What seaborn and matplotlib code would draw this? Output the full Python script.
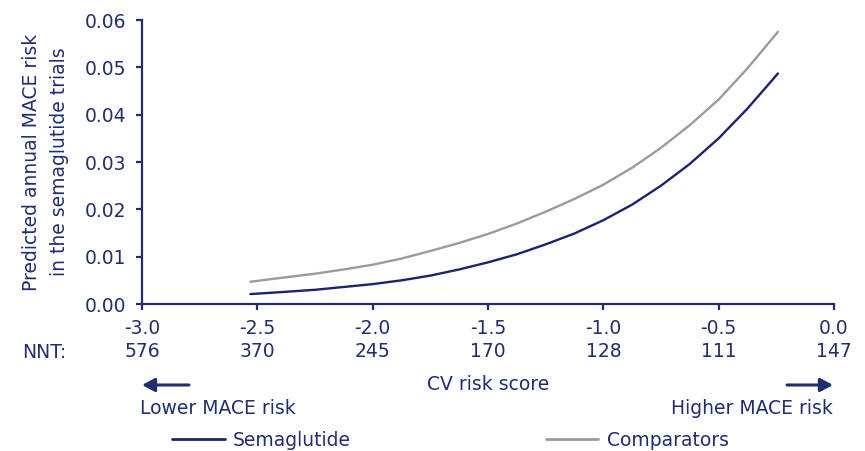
import matplotlib
matplotlib.use("Agg")
import matplotlib.pyplot as plt
import pandas as pd
import seaborn as sns
from matplotlib.lines import Line2D
from matplotlib.patches import FancyArrowPatch

# CV risk score at which the predicted annual MACE risk is read
cv_score = [-2.53, -2.40, -2.25, -2.125, -2.0, -1.875, -1.75, -1.625, -1.5, -1.375,
            -1.25, -1.125, -1.0, -0.875, -0.75, -0.625, -0.5, -0.375, -0.243]
semaglutide = [0.0021, 0.0025, 0.0030, 0.0036, 0.0042, 0.0050, 0.0060, 0.0073, 0.0088, 0.0105,
               0.0126, 0.0149, 0.0177, 0.0210, 0.0250, 0.0296, 0.0350, 0.0413, 0.0487]
comparators = [0.0047, 0.0055, 0.0064, 0.0073, 0.0083, 0.0096, 0.0112, 0.0129, 0.0148, 0.0170,
               0.0195, 0.0222, 0.0252, 0.0288, 0.0330, 0.0378, 0.0432, 0.0498, 0.0575]

x_ticks = [-3.0, -2.5, -2.0, -1.5, -1.0, -0.5, 0.0]
x_tick_labels = ["-3.0", "-2.5", "-2.0", "-1.5", "-1.0", "-0.5", "0.0"]
nnt = ["576", "370", "245", "170", "128", "111", "147"]
y_ticks = [0.00, 0.01, 0.02, 0.03, 0.04, 0.05, 0.06]
series_names = ["Semaglutide", "Comparators"]

NAVY = "#212d70"
SEMA = "#1b2370"
GREY = "#9b9b9b"
FS = 13.5

sns.set_theme(style="ticks")
plt.rcParams["font.family"] = ["DejaVu Sans"]
plt.rcParams["axes.unicode_minus"] = False

df = pd.concat([
    pd.DataFrame({"score": cv_score, "risk": semaglutide, "group": series_names[0]}),
    pd.DataFrame({"score": cv_score, "risk": comparators, "group": series_names[1]}),
])

W, H = 865, 451
fig = plt.figure(figsize=(W / 100, H / 100), dpi=100)
ax = fig.add_axes([142 / W, 1 - 304 / H, (834 - 142) / W, (304 - 20) / H])

palette = {series_names[0]: SEMA, series_names[1]: GREY}
sns.lineplot(data=df, x="score", y="risk", hue="group", palette=palette,
             linewidth=1.7, legend=False, ax=ax, sort=True)

ax.set_xlim(-3.0, 0.0)
ax.set_ylim(0.0, 0.06)
ax.set_xticks(x_ticks)
ax.set_xticklabels([f"{a}\n{b}" for a, b in zip(x_tick_labels, nnt)],
                   linespacing=1.3)
ax.set_yticks(y_ticks)
ax.set_yticklabels([f"{v:.2f}" for v in y_ticks])
ax.set_xlabel("")
ax.set_ylabel("Predicted annual MACE risk\nin the semaglutide trials",
              fontsize=FS, color=NAVY, linespacing=1.6, labelpad=11)

for side in ("top", "right"):
    ax.spines[side].set_visible(False)
for side in ("left", "bottom"):
    ax.spines[side].set_color(NAVY)
    ax.spines[side].set_linewidth(1.6)
ax.tick_params(axis="both", colors=NAVY, labelcolor=NAVY, labelsize=FS,
               length=4.5, width=1.6, direction="out")
ax.tick_params(axis="y", pad=7)
ax.tick_params(axis="x", pad=6)

# row header for the NNT values
fig.text(22 / W, 1 - 352 / H, "NNT:", color=NAVY, fontsize=FS,
         ha="left", va="center")
fig.text(488 / W, 1 - 384 / H, "CV risk score", color=NAVY, fontsize=FS,
         ha="center", va="center")
fig.text(140 / W, 1 - 409 / H, "Lower MACE risk", color=NAVY, fontsize=FS,
         ha="left", va="center")
fig.text(833 / W, 1 - 409 / H, "Higher MACE risk", color=NAVY, fontsize=FS,
         ha="right", va="center")

arrow = dict(arrowstyle="-|>,head_length=0.75,head_width=0.4", mutation_scale=10,
             color=NAVY, lw=2.2, shrinkA=0, shrinkB=0)
ay = 1 - 385 / H
fig.add_artist(FancyArrowPatch((189 / W, ay), (142 / W, ay),
                               transform=fig.transFigure, **arrow))
fig.add_artist(FancyArrowPatch((787 / W, ay), (833 / W, ay),
                               transform=fig.transFigure, **arrow))

# legend drawn along the bottom edge
handles = [Line2D([0], [0], color=SEMA, lw=2.0), Line2D([0], [0], color=GREY, lw=2.0)]
leg = fig.legend(handles, series_names, loc="center left",
                 bbox_to_anchor=(172 / W, 1 - 440 / H), ncol=2, frameon=False,
                 fontsize=FS, handlelength=2.8, handletextpad=0.45,
                 columnspacing=10.4, borderpad=0, borderaxespad=0)
for t in leg.get_texts():
    t.set_color(NAVY)

fig.savefig("out.png", dpi=100)
